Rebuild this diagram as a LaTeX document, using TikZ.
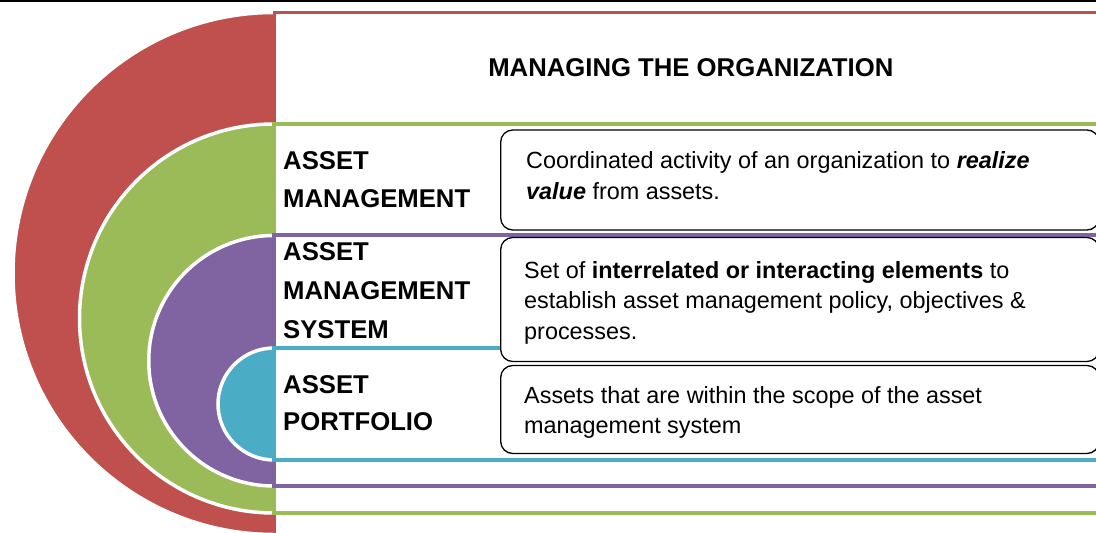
\documentclass[tikz,border=0pt]{standalone}
\usepackage{fontspec}
\setmainfont{Liberation Sans}

\definecolor{orgred}{HTML}{C0504D}
\definecolor{amgreen}{HTML}{9BBB59}
\definecolor{syspurple}{HTML}{8064A2}
\definecolor{portteal}{HTML}{4BACC6}

\begin{document}
\begin{tikzpicture}[x=1pt, y=1pt,
    headtext/.style={font=\fontsize{25.7}{30}\selectfont\bfseries, inner sep=0pt, anchor=base west},
    bodytext/.style={font=\fontsize{23.4}{28}\selectfont, inner sep=0pt, anchor=base west},
    descbox/.style={draw=black, line width=1.3pt, fill=white, rounded corners=12pt},
    rim/.style={white, line width=3.5pt}]

    % Page size, everything outside is cut off
    \useasboundingbox (0,0) rectangle (1096,533);
    \clip (0,0) rectangle (1096,533);

    % Rule along the top edge
    \draw[line width=2.5pt] (0,531.8) -- (1096,531.8);

    % --- OUTER LAYER (red) ---
    % Half disc centred at (274,259.5), radius 261
    \fill[orgred] (274,520.5) arc (90:270:261) -- cycle;
    \draw[rim] (274,520.5) arc (90:270:261);
    \draw[orgred, line width=3pt, fill=white] (274,-1.5) rectangle (1110,520.5);

    % --- SECOND LAYER (green) ---
    \fill[amgreen] (274,409) arc (90:270:194.5) -- cycle;
    \draw[rim] (274,409) arc (90:270:194.5);
    \draw[amgreen, line width=4pt, fill=white] (274,20) rectangle (1110,409);

    % --- THIRD LAYER (purple) ---
    \fill[syspurple] (274,297.5) arc (90:270:125.25) -- cycle;
    \draw[rim] (274,297.5) arc (90:270:125.25);
    \draw[syspurple, line width=4pt, fill=white] (274,47) rectangle (1110,297.5);

    % --- INNER LAYER (teal) ---
    \fill[portteal] (274,185) arc (90:270:56) -- cycle;
    \draw[rim] (274,185) arc (90:270:56);
    \draw[portteal, line width=4pt, fill=white] (274,73) rectangle (1110,185);

    % Description boxes on the right
    \draw[descbox] (500.7,303) rectangle (1099,403);
    \draw[descbox] (500.7,171.5) rectangle (1099,295.5);
    \draw[descbox] (500.7,79.5) rectangle (1099,167.5);

    % Heading
    \node[headtext, anchor=base] (title) at (690.8,456.3) {MANAGING THE ORGANIZATION};

    % Layer names
    \node[headtext] (am1) at (283,363) {ASSET};
    \node[headtext] (am2) at (283,325.3) {MANAGEMENT};

    \node[headtext] (sys1) at (283,272) {ASSET};
    \node[headtext] (sys2) at (283,233) {MANAGEMENT};
    \node[headtext] (sys3) at (283,194) {SYSTEM};

    \node[headtext] (port1) at (283,139.3) {ASSET};
    \node[headtext] (port2) at (283,102) {PORTFOLIO};

    % Box texts
    \node[bodytext] (amtext1) at (526,364.7) {Coordinated activity of an organization to \textbf{\textit{realize}}};
    \node[bodytext] (amtext2) at (526,333.7) {\textbf{\textit{value}} from assets.};

    \node[bodytext] (systext1) at (524,254.3) {Set of \textbf{interrelated or interacting elements} to};
    \node[bodytext] (systext2) at (524,224) {establish asset management policy, objectives \&};
    \node[bodytext] (systext3) at (524,193) {processes.};

    \node[bodytext] (porttext1) at (524,129.5) {Assets that are within the scope of the asset};
    \node[bodytext] (porttext2) at (524,99) {management system};

\end{tikzpicture}
\end{document}
